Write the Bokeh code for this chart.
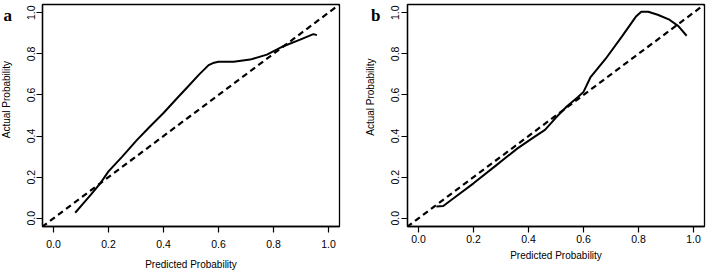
import math
from bokeh.plotting import figure
from bokeh.layouts import row
from bokeh.models import Range1d, FixedTicker
from bokeh.core.properties import value
from bokeh.embed import file_html
from bokeh.resources import INLINE

# Panel a: calibration curve
a_pred = [0.079, 0.11, 0.136, 0.17, 0.2, 0.25, 0.303, 0.35, 0.4, 0.45, 0.485,
          0.53, 0.564, 0.58, 0.6, 0.655, 0.715, 0.776, 0.836, 0.897, 0.945, 0.958]
a_act = [0.027, 0.075, 0.115, 0.17, 0.228, 0.30, 0.38, 0.445, 0.512, 0.585, 0.635,
         0.70, 0.745, 0.755, 0.761, 0.761, 0.772, 0.796, 0.837, 0.869, 0.896, 0.891]

# Panel b: calibration curve
b_pred = [0.065, 0.09, 0.13, 0.2, 0.28, 0.36, 0.42, 0.46, 0.5, 0.54, 0.58, 0.6,
          0.625, 0.68, 0.74, 0.79, 0.81, 0.835, 0.87, 0.91, 0.945, 0.975]
b_act = [0.057, 0.06, 0.1, 0.17, 0.255, 0.34, 0.395, 0.43, 0.49, 0.545, 0.59, 0.615,
         0.685, 0.775, 0.885, 0.98, 1.005, 1.005, 0.99, 0.968, 0.935, 0.888]

# Ideal (diagonal) reference line
ideal = [-0.1, 1.1]

ticks = [0.0, 0.2, 0.4, 0.6, 0.8, 1.0]
tick_labels = {0.0: "0.0", 0.2: "0.2", 0.4: "0.4", 0.6: "0.6", 0.8: "0.8", 1.0: "1.0"}
x_title = "Predicted Probability"
y_title = "Actual Probability"
panel_letters = ["a", "b"]

FONT = "Liberation Sans"
H = 272


def make_strip(width, letter, letter_x, letter_y, label_x, label_y):
    """Narrow strip left of a panel holding the panel letter and the y-axis title."""
    s = figure(width=width, height=H, output_backend="svg", toolbar_location=None,
               x_range=Range1d(0, width), y_range=Range1d(H, 0),
               x_axis_type=None, y_axis_type=None, title=None,
               min_border_left=0, min_border_right=0, min_border_top=0, min_border_bottom=0)
    s.outline_line_color = None
    s.background_fill_color = "white"
    s.border_fill_color = "white"
    s.grid.visible = False
    s.text(x=[letter_x], y=[letter_y], text=[letter], text_font=value("Liberation Serif"),
           text_font_style="bold", text_font_size="17px", text_color="black",
           text_align="left", text_baseline="alphabetic")
    s.text(x=[label_x], y=[label_y], text=[y_title], text_font=value(FONT),
           text_font_size="10px", text_color="black", angle=math.pi / 2,
           text_align="center", text_baseline="middle")
    return s


def make_panel(px, py, width, left, right, top, bottom, xl_std, xt_std, yt_std):
    p = figure(width=width, height=H, output_backend="svg", toolbar_location=None,
               x_range=Range1d(-0.04, 1.04), y_range=Range1d(-0.04, 1.04),
               min_border_left=left, min_border_right=right,
               min_border_top=top, min_border_bottom=bottom)
    p.background_fill_color = "white"
    p.border_fill_color = "white"
    p.outline_line_color = "black"
    p.outline_line_width = 1.3
    p.grid.visible = False
    for ax in (p.xaxis[0], p.yaxis[0]):
        ax.ticker = FixedTicker(ticks=ticks)
        ax.major_label_overrides = tick_labels
        ax.minor_tick_line_color = None
        ax.major_tick_in = 0
        ax.major_tick_out = 6
        ax.major_tick_line_width = 1.2
        ax.axis_line_width = 1.3
        ax.major_label_text_font = FONT
        ax.major_label_text_font_size = "10.5px"
        ax.major_label_text_color = "black"
        ax.axis_label_text_font = FONT
        ax.axis_label_text_font_size = "10px"
        ax.axis_label_text_font_style = "normal"
        ax.axis_label_text_color = "black"
    p.xaxis.axis_label = x_title
    p.xaxis.major_label_standoff = xt_std
    p.xaxis.axis_label_standoff = xl_std
    p.yaxis.major_label_standoff = yt_std
    p.yaxis.major_label_orientation = "vertical"

    p.line(ideal, ideal, line_color="black", line_width=2.2, line_dash="6 4")
    p.line(px, py, line_color="black", line_width=2)
    return p


sa = make_strip(20, panel_letters[0], 3, 14, 6, 116.5)
pa = make_panel(a_pred, a_act, 334, 22, 15, 4, 43, 8, 7, 1)
sb = make_strip(30, panel_letters[1], 16.5, 13.5, 16, 113.5)
pb = make_panel(b_pred, b_act, 323, 23, 3, 1, 45, 4, 2, 2)

layout = row(sa, pa, sb, pb)
open("out.html", "w").write(file_html(layout, INLINE))
